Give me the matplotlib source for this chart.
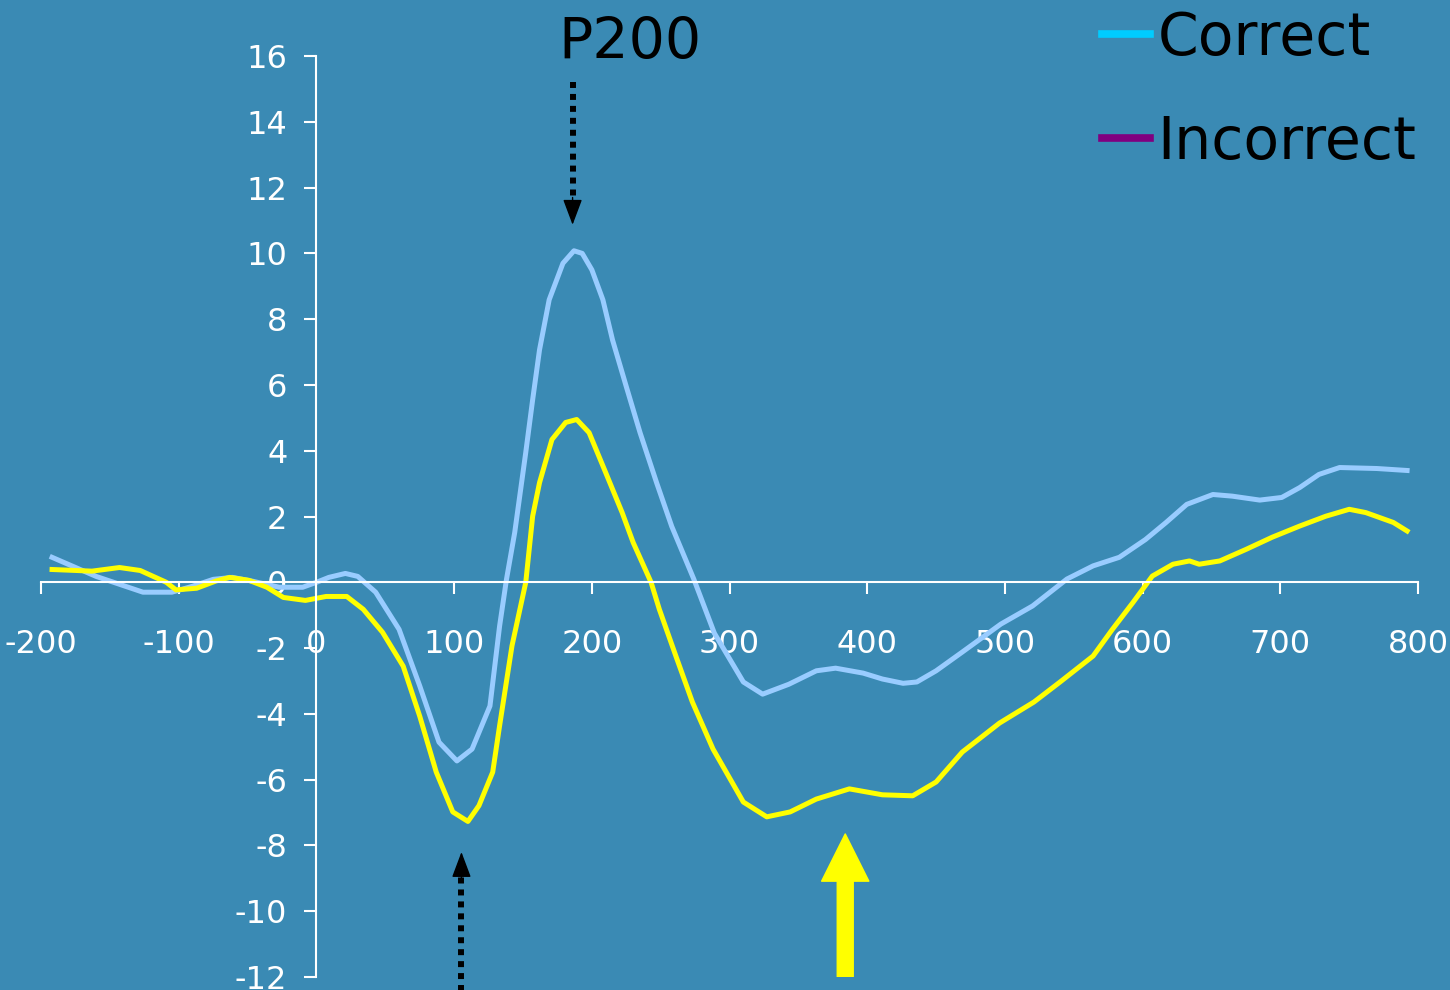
import matplotlib.pyplot as plt
from matplotlib.lines import Line2D
from matplotlib.patches import FancyArrowPatch

# ERP waveforms (ms, microvolts)
correct_ms = [-192, -160, -126, -105, -90, -75, -61, -46, -27, -10, 0, 9, 21, 30, 43,
              60, 75, 89, 102, 113, 126, 133, 138, 144, 152, 157, 162, 169, 179, 187,
              193, 200, 208, 215, 225, 235, 247, 258, 274, 289, 310, 324, 343, 363, 377,
              397, 411, 426, 436, 450, 469, 497, 520, 545, 564, 583, 602, 617, 632, 651,
              665, 685, 701, 714, 728, 743, 770, 792]
correct_uv = [0.76, 0.18, -0.3, -0.3, -0.12, 0.09, 0.15, 0.03, -0.15, -0.15, 0.0, 0.15, 0.27, 0.18, -0.3,
              -1.43, -3.15, -4.86, -5.43, -5.07, -3.76, -1.33, 0.09, 1.52, 3.95, 5.55, 7.07, 8.59, 9.7, 10.08,
              10.0, 9.5, 8.59, 7.37, 5.95, 4.55, 3.03, 1.7, 0.1, -1.55, -3.03, -3.4, -3.1, -2.69, -2.61,
              -2.76, -2.94, -3.07, -3.03, -2.69, -2.12, -1.27, -0.72, 0.1, 0.5, 0.76, 1.3, 1.82, 2.37, 2.67,
              2.62, 2.5, 2.58, 2.88, 3.28, 3.49, 3.46, 3.4]

incorrect_ms = [-192, -163, -143, -128, -109, -102, -87, -73, -63, -49, -36, -24, -8, 7, 22,
                34, 48, 63, 75, 87, 99, 110, 118, 128, 133, 142, 152, 157, 162, 171,
                181, 189, 198, 210, 222, 230, 243, 249, 261, 273, 288, 310, 327, 344, 363,
                387, 411, 433, 450, 469, 496, 521, 540, 564, 578, 593, 607, 622, 634, 641,
                656, 675, 694, 714, 733, 750, 762, 782, 792]
incorrect_uv = [0.39, 0.34, 0.45, 0.36, 0.0, -0.23, -0.18, 0.04, 0.15, 0.06, -0.15, -0.46, -0.55, -0.43, -0.43,
                -0.82, -1.52, -2.55, -4.07, -5.77, -6.98, -7.27, -6.79, -5.77, -4.36, -1.93, 0.0, 2.01, 3.03, 4.34,
                4.86, 4.95, 4.55, 3.34, 2.12, 1.21, 0.0, -0.82, -2.24, -3.64, -5.07, -6.68, -7.13, -6.98, -6.59,
                -6.28, -6.46, -6.49, -6.07, -5.16, -4.28, -3.64, -3.03, -2.24, -1.43, -0.61, 0.19, 0.55, 0.65, 0.55,
                0.65, 1.0, 1.37, 1.71, 2.01, 2.22, 2.12, 1.82, 1.56]

x_ticks = list(range(-200, 801, 100))
y_ticks = list(range(-12, 17, 2))
legend_labels = ['Correct', 'Incorrect']

plt.rcParams['font.family'] = ['DejaVu Sans']
plt.rcParams['axes.unicode_minus'] = False

bg = '#3a8ab4'
fig = plt.figure(figsize=(14.5, 9.9), dpi=100, facecolor=bg)
ax = fig.add_axes([0.0283, 0.0131, 0.9497, 0.9303])
ax.set_facecolor(bg)

ax.plot(correct_ms, correct_uv, color='#99ccff', lw=3.6, solid_joinstyle='round')
ax.plot(incorrect_ms, incorrect_uv, color='#ffff00', lw=3.6, solid_joinstyle='round')

ax.set_xlim(-200, 800)
ax.set_ylim(-12, 16)
ax.set_xticks(x_ticks)
ax.set_yticks(y_ticks)

# axes cross at the origin
for side in ['top', 'right']:
    ax.spines[side].set_visible(False)
ax.spines['left'].set_position(('data', 0))
ax.spines['bottom'].set_position(('data', 0))
for side in ['left', 'bottom']:
    ax.spines[side].set_color('white')
    ax.spines[side].set_linewidth(1.5)
ax.tick_params(axis='x', direction='out', length=8.6, width=1.5, colors='white', pad=25, labelsize=23)
ax.tick_params(axis='y', direction='out', length=9, width=1.5, colors='white', pad=12, labelsize=23)

# legend swatches don't match the plotted colours on the original slide
handles = [Line2D([], [], color='#00ccff', lw=5.5), Line2D([], [], color='#800080', lw=5.5)]
ax.legend(handles, legend_labels, loc='upper left', bbox_to_anchor=(0.76, 0.990),
          bbox_transform=fig.transFigure, frameon=False, fontsize=42, labelcolor='black',
          handlelength=0.83, handletextpad=0.12, labelspacing=0.8, borderpad=0, borderaxespad=0)

fig.text(0.4345, 0.9404, 'P200', fontsize=41, ha='center', va='baseline', color='black')

# dotted pointers
head = dict(arrowstyle='-|>,head_length=1.6,head_width=0.6', mutation_scale=10, color='black', lw=1,
            shrinkA=0, shrinkB=0, clip_on=False)
ax.plot([186, 186], [15.2, 11.6], color='black', lw=4.3, linestyle=(0, (1, 1)),
        dash_capstyle='butt', clip_on=False)
ax.annotate('', xy=(186, 10.87), xytext=(186, 11.7), arrowprops=head)
ax.plot([105.3, 105.3], [-12.6, -8.9], color='black', lw=4.3, linestyle=(0, (1, 1)),
        dash_capstyle='butt', clip_on=False)
ax.annotate('', xy=(105.3, -8.2), xytext=(105.3, -9.0), arrowprops=head, annotation_clip=False)

# yellow N400 arrow
ax.add_patch(FancyArrowPatch((384, -11.99), (384, -7.65),
                             arrowstyle='simple,head_length=34,head_width=34,tail_width=11.5',
                             mutation_scale=1, color='#ffff00', shrinkA=0, shrinkB=0))

fig.savefig('out.png', dpi=100, facecolor=bg)
